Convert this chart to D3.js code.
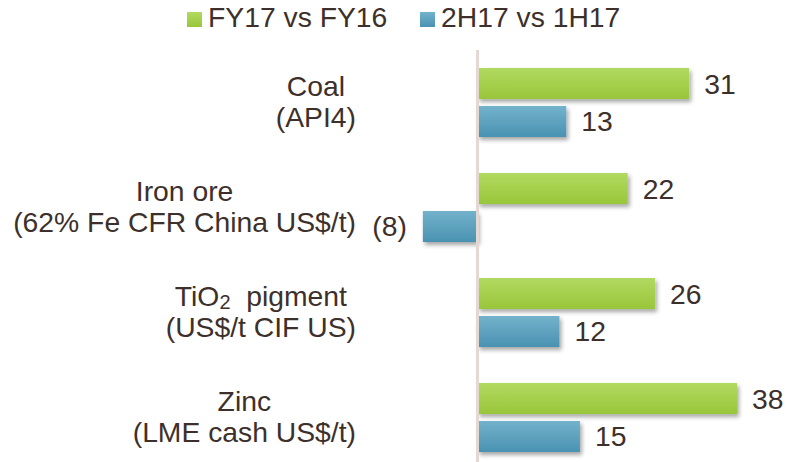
<html>
<head>
<script src='https://d3js.org/d3.v7.min.js'></script>
<style>
body {margin:0; background:#fff;}
text {font-family: "Liberation Sans", Arial, sans-serif; fill:#3d302b;}
</style>
</head>
<body>
<svg width=791 height=462></svg>
<script>
// data
var categories = ["Coal", "Iron ore", "TiO2 pigment", "Zinc"];
var labelLines = [
  ["Coal", "(API4)"],
  ["Iron ore", "(62% Fe CFR China US$/t)"],
  ["TiO2 pigment", "(US$/t CIF US)"],
  ["Zinc", "(LME cash US$/t)"]
];
var seriesNames = ["FY17 vs FY16", "2H17 vs 1H17"];
var fy17 = [31, 22, 26, 38];
var h2 = [13, -8, 12, 15];

var fs = "28.3px";
var svg = d3.select("svg");
var defs = svg.append("defs");

var grads = [["gGreen", "#b1da60", "#98c63a"], ["gBlue", "#73b2cb", "#4a92b2"]];
grads.forEach(function(g) {
  var lg = defs.append("linearGradient").attr("id", g[0])
    .attr("x1", 0).attr("y1", 0).attr("x2", 0).attr("y2", 1);
  lg.append("stop").attr("offset", "0%").attr("stop-color", g[1]);
  lg.append("stop").attr("offset", "100%").attr("stop-color", g[2]);
});
var f = defs.append("filter").attr("id", "shadow")
  .attr("x", "-10%").attr("y", "-30%").attr("width", "130%").attr("height", "180%");
f.append("feDropShadow").attr("dx", 2).attr("dy", 3).attr("stdDeviation", 2)
  .attr("flood-color", "#000").attr("flood-opacity", 0.35);

var x = d3.scaleLinear().domain([0, 38]).range([477.5, 737]);
var y0 = d3.scaleBand().domain(categories).range([50, 470]);
var y1 = d3.scaleBand().domain(seriesNames).range([18, 87]).paddingInner(0.184);

var rows = [];
categories.forEach(function(c, i) {
  rows.push({cat: c, s: seriesNames[0], v: fy17[i], fill: "url(#gGreen)"});
  rows.push({cat: c, s: seriesNames[1], v: h2[i], fill: "url(#gBlue)"});
});

svg.append("g").selectAll("rect").data(rows).enter().append("rect")
  .attr("x", function(d) { return Math.min(x(0), x(d.v)); })
  .attr("y", function(d) { return y0(d.cat) + y1(d.s); })
  .attr("width", function(d) { return Math.abs(x(d.v) - x(0)); })
  .attr("height", y1.bandwidth())
  .attr("fill", function(d) { return d.fill; })
  .attr("filter", "url(#shadow)");

// zero line
svg.append("line")
  .attr("x1", x(0)).attr("x2", x(0))
  .attr("y1", 50).attr("y2", 462)
  .attr("stroke", "#e3d8d2").attr("stroke-width", 3);

// value labels
svg.append("g").selectAll("text").data(rows).enter().append("text")
  .attr("x", function(d) { return d.v >= 0 ? x(d.v) + 15 : x(d.v) - 16; })
  .attr("y", function(d) { return y0(d.cat) + y1(d.s) + y1.bandwidth() / 2 + 10; })
  .attr("text-anchor", function(d) { return d.v >= 0 ? "start" : "end"; })
  .style("font-size", fs)
  .text(function(d) { return d.v >= 0 ? d.v : "(" + (-d.v) + ")"; });

// category labels: lines centred on each other, block right-aligned
categories.forEach(function(c, i) {
  var cy = y0(c) + 52.5;
  var g = svg.append("g");
  var lines = labelLines[i];
  var t = lines.map(function(l, j) {
    var el = g.append("text").attr("y", j == 0 ? cy - 7 : cy + 24)
      .attr("text-anchor", "middle").style("font-size", fs);
    if (l.indexOf("TiO2") == 0) {
      el.append("tspan").text("TiO");
      el.append("tspan").text("2").style("font-size", "20px").attr("dy", 3);
      el.append("tspan").text("\u00a0 pigment").attr("dy", -3);
    } else {
      el.text(l);
    }
    return el;
  });
  var w = d3.max(t, function(el) { return el.node().getComputedTextLength(); });
  t.forEach(function(el) { el.attr("x", 356 - w / 2); });
});

// legend
var legX = [187, 420];
var legFill = ["url(#gGreen)", "url(#gBlue)"];
seriesNames.forEach(function(s, i) {
  svg.append("rect").attr("x", legX[i]).attr("y", 12)
    .attr("width", 15).attr("height", 15).attr("fill", legFill[i]);
  svg.append("text").attr("x", legX[i] + 21).attr("y", 27)
    .style("font-size", fs).text(s);
});
</script>
</body>
</html>
